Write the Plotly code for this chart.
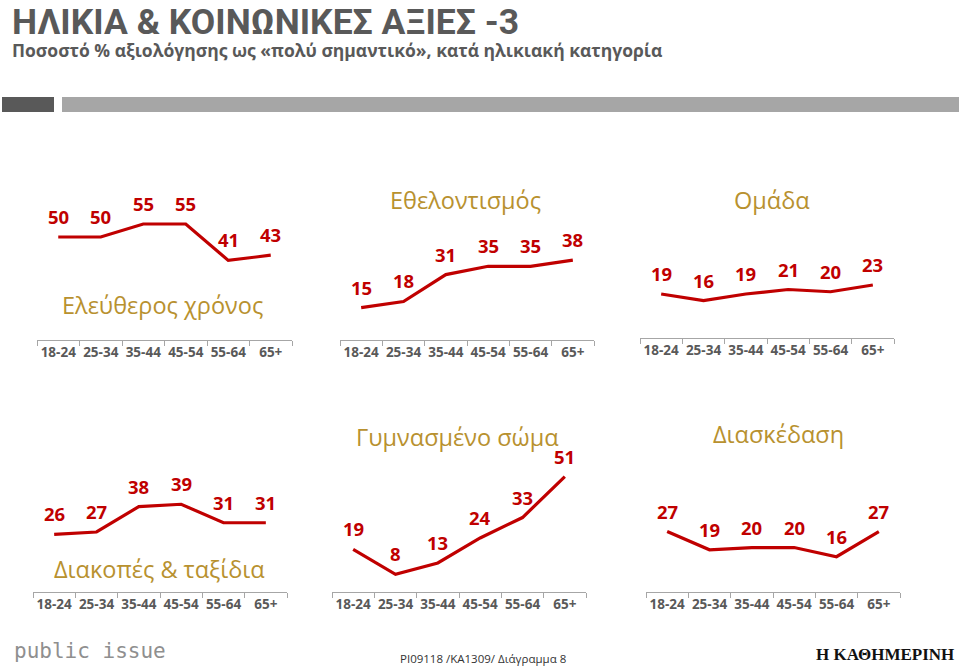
import plotly.graph_objects as go

W, H = 959, 666

# ---------------- data ----------------
age_groups = ["18-24", "25-34", "35-44", "45-54", "55-64", "65+"]

panel_titles = ["Ελεύθερος χρόνος", "Εθελοντισμός", "Ομάδα",
                "Διακοπές & ταξίδια", "Γυμνασμένο σώμα", "Διασκέδαση"]

free_time = [50, 50, 55, 55, 41, 43]
volunteering = [15, 18, 31, 35, 35, 38]
team = [19, 16, 19, 21, 20, 23]
holidays_travel = [26, 27, 38, 39, 31, 31]
fit_body = [19, 8, 13, 24, 33, 51]
entertainment = [27, 19, 20, 20, 16, 27]

series = [free_time, volunteering, team, holidays_travel, fit_body, entertainment]

main_title = "ΗΛΙΚΙΑ & ΚΟΙΝΩΝΙΚΕΣ ΑΞΙΕΣ -3"
subtitle = "Ποσοστό % αξιολόγησης ως «πολύ σημαντικό», κατά ηλικιακή κατηγορία"
footer_code = "PI09118 /KA1309/ Διάγραμμα 8"

# ---------------- layout geometry (pixels) ----------------
# x-left, x-right, axis-line y, anchor value, anchor pixel y, px per unit
panels = [
    (37, 292, 340, 50, 237.0, 2.6),
    (340, 594, 340, 15, 307.7, 2.07),
    (640, 894, 338, 16, 300.7, 2.24),
    (33, 287, 592, 26, 534.3, 2.31),
    (332, 586, 592, 8, 574.3, 2.27),
    (646, 900, 592, 16, 556.7, 2.29),
]
title_pos = [(162, 305), (465, 200), (772, 200), (159, 569), (457, 437), (778, 434)]

RED = "#C00000"
GOLD = "#B8912F"
GRAY = "#595959"
AXIS = "#A6A6A6"
FONT = "Open Sans"


def px(x):
    return x / W


def py(y):
    return 1 - y / H


fig = go.Figure()
annotations = []
layout_axes = {}

for i, (xl, xr, yb, v0, p0, k) in enumerate(panels):
    n = i + 1
    xa = "x" if n == 1 else f"x{n}"
    ya = "y" if n == 1 else f"y{n}"
    yt = yb - 180
    lo = v0 - (yb - p0) / k
    hi = v0 + (p0 - yt) / k
    vals = series[i]
    fig.add_trace(go.Scatter(
        x=age_groups, y=vals, mode="lines",
        line=dict(color=RED, width=3.2),
        xaxis=xa, yaxis=ya, showlegend=False, hoverinfo="skip",
    ))
    for cat, v in zip(age_groups, vals):
        annotations.append(dict(
            x=cat, y=v, xref=xa, yref=ya, text=str(v), showarrow=False,
            yshift=20.5, yanchor="middle",
            font=dict(family=FONT, size=18.5, color=RED, weight="bold"),
        ))
    xkey = "xaxis" if n == 1 else f"xaxis{n}"
    ykey = "yaxis" if n == 1 else f"yaxis{n}"
    layout_axes[xkey] = dict(
        domain=[px(xl), px(xr)], anchor=ya, type="category",
        categoryorder="array", categoryarray=age_groups,
        range=[-0.5, 5.5], tickson="boundaries", tickangle=0,
        showline=True, linecolor=AXIS, linewidth=1.3,
        ticks="outside", ticklen=5, tickcolor=AXIS, tickwidth=1.3,
        showgrid=False, zeroline=False,
        tickfont=dict(family=FONT, size=13.5, color=GRAY, weight="bold"),
        fixedrange=True,
    )
    layout_axes[ykey] = dict(
        domain=[py(yb), py(yt)], anchor=xa, range=[lo, hi],
        visible=False, showgrid=False, zeroline=False, fixedrange=True,
    )
    tx, ty = title_pos[i]
    annotations.append(dict(
        x=px(tx), y=py(ty), xref="paper", yref="paper", text=panel_titles[i],
        showarrow=False, xanchor="center", yanchor="middle",
        font=dict(family=FONT, size=23.5, color=GOLD),
    ))

# header texts
annotations.append(dict(
    x=px(11), y=1, xref="paper", yref="paper", text=main_title,
    showarrow=False, xanchor="left", yanchor="top", borderpad=0,
    font=dict(family="Roboto", size=35.5, color=GRAY, weight="bold"),
))
annotations.append(dict(
    x=px(11), y=py(50), xref="paper", yref="paper", text=subtitle,
    showarrow=False, xanchor="left", yanchor="middle", borderpad=0,
    font=dict(family=FONT, size=17.5, color=GRAY, weight="bold"),
))
# footer texts
annotations.append(dict(
    x=px(12), y=py(651), xref="paper", yref="paper", text="public issue",
    showarrow=False, xanchor="left", yanchor="middle",
    font=dict(family="DejaVu Sans Mono", size=21, color="#8F8F8F"),
))
annotations.append(dict(
    x=px(483), y=py(658), xref="paper", yref="paper", text=footer_code,
    showarrow=False, xanchor="center", yanchor="middle",
    font=dict(family=FONT, size=11.5, color="#333333"),
))
annotations.append(dict(
    x=px(956), y=py(654), xref="paper", yref="paper", text="Η ΚΑΘΗΜΕΡΙΝΗ",
    showarrow=False, xanchor="right", yanchor="middle",
    font=dict(family="Liberation Serif", size=17, color="#111111", weight="bold"),
))

shapes = [
    dict(type="rect", xref="paper", yref="paper", x0=px(2), x1=px(54),
         y0=py(112), y1=py(97), fillcolor="#595959", line=dict(width=0), layer="below"),
    dict(type="rect", xref="paper", yref="paper", x0=px(62), x1=px(959),
         y0=py(112), y1=py(97), fillcolor="#A6A6A6", line=dict(width=0), layer="below"),
]

fig.update_layout(
    width=W, height=H, margin=dict(l=0, r=0, t=0, b=0),
    paper_bgcolor="white", plot_bgcolor="rgba(0,0,0,0)",
    annotations=annotations, shapes=shapes, showlegend=False,
    **layout_axes,
)

fig.write_html("out.html", config={"displayModeBar": False})
